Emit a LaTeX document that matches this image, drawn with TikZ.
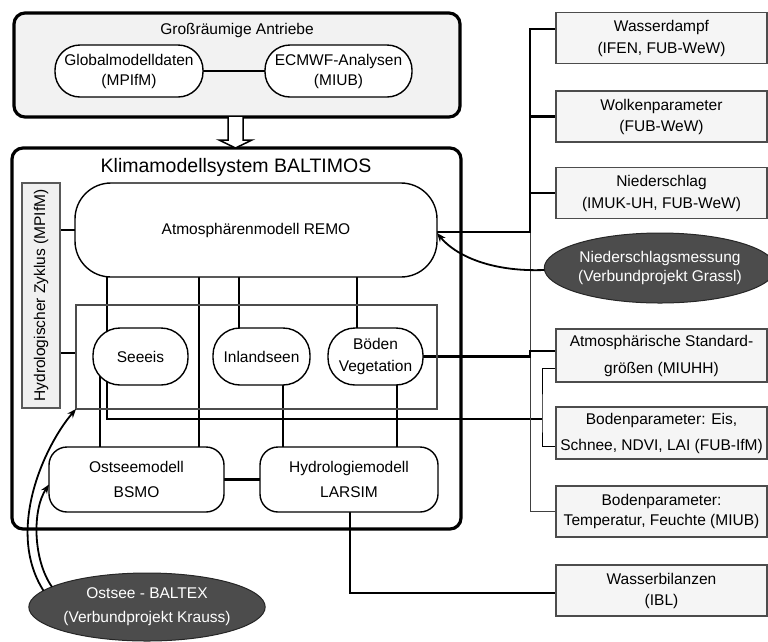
\documentclass[tikz,border=0pt]{standalone}
\usepackage{fontspec}
\setmainfont{Liberation Sans}
\usetikzlibrary{arrows.meta,shapes.geometric}
\pgfdeclarelayer{bg}
\pgfdeclarelayer{lines}
\pgfsetlayers{bg,lines,main}
\begin{document}
\begin{tikzpicture}[x=1pt,y=-1pt,
  every node/.style={font=\fontsize{15.5}{21}\selectfont, align=center, inner sep=0pt, outer sep=0pt},
  pill/.style={draw, fill=white, line width=1.4pt},
  rbox/.style={draw=black!70, fill=black!4, line width=1.2pt, minimum width=211pt, minimum height=51pt},
  darkell/.style={ellipse, draw=black!85, fill=black!70, text=white, line width=1pt, inner sep=0pt},
  conn/.style={line width=2.1pt},
  thickconn/.style={line width=2.9pt},
  thinconn/.style={line width=1pt},
  arr/.style={line width=1.8pt, -{Stealth[length=9pt,width=7pt]}}
]
\useasboundingbox (0,0) rectangle (768,641);

% ---------- containers ----------
\begin{pgfonlayer}{bg}
\fill[white] (0,0) rectangle (768,641);
\node[draw, line width=3.2pt, rounded corners=11pt, fill=black!5, minimum width=446pt, minimum height=104pt] (forcing) at (237,65) {};
\node[draw, line width=3.2pt, rounded corners=11pt, fill=white, minimum width=449pt, minimum height=381pt] (baltimos) at (236.5,338.5) {};
\end{pgfonlayer}

\node (forcingtitle) at (237,30) {Großräumige Antriebe};
\node[font=\fontsize{19.5}{23}\selectfont] (title) at (236,167) {Klimamodellsystem BALTIMOS};

% ---------- nodes ----------
\node[pill, rounded corners=25pt, minimum width=148pt, minimum height=52pt, font=\fontsize{15.5}{20}\selectfont] (glob) at (129,71) {Globalmodelldaten\\(MPIfM)};
\node[pill, rounded corners=25pt, minimum width=147pt, minimum height=52pt, font=\fontsize{15.5}{20}\selectfont] (ecmwf) at (338.5,71) {ECMWF-Analysen\\(MIUB)};

\node[draw=black!65, fill=black!6, line width=1.2pt, rotate=90, minimum width=225pt, minimum height=38pt] (hydro) at (41,295.5) {Hydrologischer Zyklus (MPIfM)};

\node[pill, rounded corners=36pt, minimum width=362pt, minimum height=94pt] (remo) at (256,230) {Atmosphärenmodell REMO};

\node[draw=black!70, line width=1.1pt, minimum width=361pt, minimum height=104pt] (inner) at (256.5,357) {};

\node[pill, rounded corners=27pt, minimum width=95pt, minimum height=57pt] (seeeis) at (140.5,356.5) {Seeeis};
\node[pill, rounded corners=27pt, minimum width=97pt, minimum height=57pt] (inland) at (261.5,356.5) {Inlandseen};
\node[pill, rounded corners=27pt, minimum width=95pt, minimum height=57pt, font=\fontsize{15.5}{22}\selectfont] (boden) at (375.5,356.5) {Böden\\Vegetation};

\node[pill, rounded corners=18pt, minimum width=175pt, minimum height=65pt, font=\fontsize{15.5}{25}\selectfont] (ostsee) at (136.5,479.5) {Ostseemodell\\BSMO};
\node[pill, rounded corners=18pt, minimum width=178pt, minimum height=65pt, font=\fontsize{15.5}{25}\selectfont] (hydmod) at (349,479.5) {Hydrologiemodell\\LARSIM};

% right column
\node[rbox, font=\fontsize{15.5}{22}\selectfont] (wd) at (661.5,38) {Wasserdampf\\(IFEN, FUB-WeW)};
\node[rbox, font=\fontsize{15.5}{21}\selectfont] (wolk) at (661.5,116.5) {Wolkenparameter\\(FUB-WeW)};
\node[rbox, font=\fontsize{15.5}{22}\selectfont] (nied) at (661.5,193) {Niederschlag\\(IMUK-UH, FUB-WeW)};
\node[rbox, minimum height=53pt, font=\fontsize{15.5}{27}\selectfont] (atm) at (661.5,355.5) {Atmosphärische Standard-\\größen (MIUHH)};
\node[rbox, minimum height=52pt, font=\fontsize{15.5}{26}\selectfont] (bod1) at (661.5,433) {Bodenparameter: Eis,\\Schnee, NDVI, LAI (FUB-IfM)};
\node[rbox, font=\fontsize{15.5}{20.5}\selectfont] (bod2) at (661.5,511.5) {Bodenparameter:\\Temperatur, Feuchte (MIUB)};
\node[rbox, font=\fontsize{15.5}{21}\selectfont] (wb) at (661.5,590.5) {Wasserbilanzen\\(IBL)};

% dark ellipses
\node[darkell, minimum width=214pt, minimum height=70pt, font=\fontsize{15.5}{19}\selectfont] (nm) at (660,268) {Niederschlagsmessung\\(Verbundprojekt Grassl)};
\node[darkell, minimum width=222pt, minimum height=68pt, font=\fontsize{15.5}{24}\selectfont] (ob) at (147,607) {Ostsee - BALTEX\\(Verbundprojekt Krauss)};

% helper coordinates
\coordinate (c100) at (100,0);
\coordinate (c107) at (107,0);
\coordinate (c199) at (199,0);
\coordinate (c239) at (239,0);
\coordinate (c283) at (283,0);
\coordinate (c350) at (350,0);
\coordinate (c357) at (357,0);
\coordinate (c397) at (397,0);
\coordinate (c530) at (530,0);
\coordinate (top530) at (530,29);
\coordinate (junc) at (542,419);

% hollow arrow between containers
\draw[line width=1.5pt, fill=white] (228,117) -- (228,140) -- (219,140) -- (235.5,148) -- (252,140) -- (243,140) -- (243,117);

% ---------- connectors ----------
\begin{pgfonlayer}{lines}
\draw[conn] (glob.east) -- (ecmwf.west);
\draw[conn] (remo.west -| hydro.center) -- (remo.west);
\draw[conn] ([yshift=4pt]inner.west -| hydro.center) -- ([yshift=4pt]inner.west);

\draw[thickconn] (remo.south -| c107) |- (junc);
\draw[conn] (remo.south -| c199) -- (ostsee.north -| c199);
\draw[conn] (remo.south -| c239) -- (inland.north -| c239);
\draw[conn] (remo.south -| c357) -- (boden.north -| c357);
\draw[conn] (seeeis.center -| c100) -- (ostsee.north -| c100);
\draw[conn] (inland.center -| c283) -- (hydmod.north -| c283);
\draw[conn] (boden.center -| c397) -- (hydmod.north -| c397);
\draw[conn] (ostsee.east) -- (hydmod.west);
\draw[conn] (hydmod.center -| c350) |- ([yshift=-2.5pt]wb.west);

\draw[thinconn, black!75] (remo.east -| c530) |- (bod2.west);
\draw[thickconn] ([yshift=-2pt]remo.east) -| (top530) -- (top530 -| wd.west);
\draw[thickconn] (wolk.west -| c530) -- (wolk.west);
\draw[thickconn] (nied.west -| c530) -- (nied.west);
\draw[thickconn] (boden.east) -- (boden.east -| c530) -- ([yshift=4.5pt]atm.west -| c530) -- ([yshift=4.5pt]atm.west);
\draw[thinconn] ([yshift=-12.5pt]atm.west) -| (junc) |- ([yshift=-13pt]bod1.west);
\end{pgfonlayer}

% ---------- arrows ----------
\draw[arr] ([yshift=-2pt]nm.west) .. controls (490,272) and (455,255) .. ([yshift=-3pt]remo.east);
\draw[arr] (ob.171) .. controls (5,530) and (45,445) .. (inner.south west);
\draw[arr] (ob.168) .. controls (33,560) and (32,510) .. ([yshift=-5pt]ostsee.west);

\end{tikzpicture}
\end{document}
